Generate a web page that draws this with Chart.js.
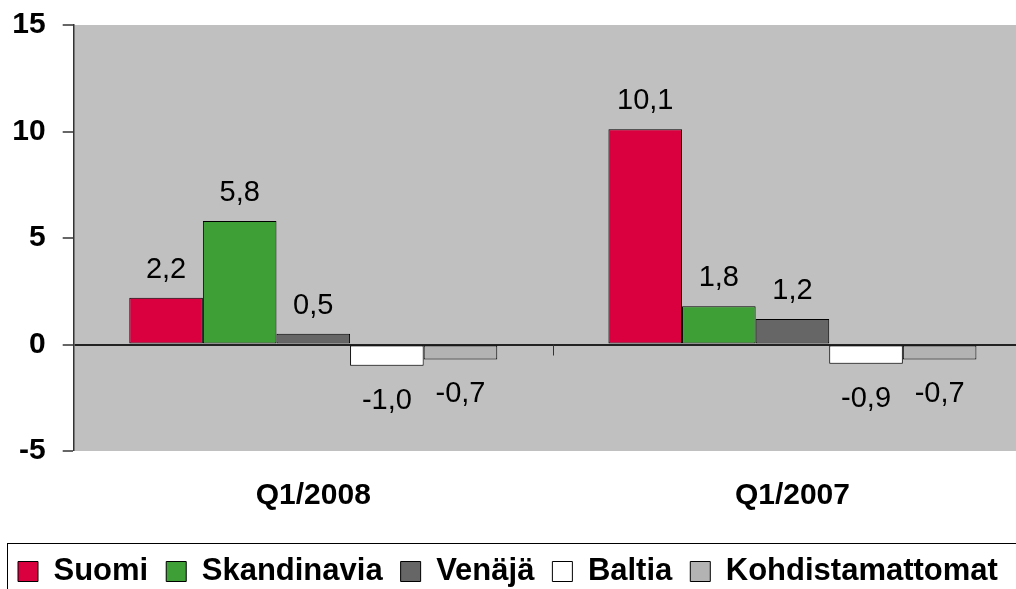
<!DOCTYPE html>
<html>
<head>
<meta charset="utf-8">
<script src="https://cdn.jsdelivr.net/npm/chart.js@4"></script>
<style>
  html, body { margin: 0; padding: 0; overflow: hidden; background: #fff; }
  #wrap { position: absolute; left: 0; top: 0; width: 1032px; height: 597px; }
</style>
</head>
<body>
<div id="wrap"><canvas id="chart1"></canvas></div>
<script>
const quarters = ['Q1/2008', 'Q1/2007'];
const suomi = [2.2, 10.1];
const skandinavia = [5.8, 1.8];
const venaja = [0.5, 1.2];
const baltia = [-1.0, -0.9];
const kohdistamattomat = [-0.7, -0.7];
const yTicks = [-5, 0, 5, 10, 15];

const FONT = "Arial, 'Liberation Sans', sans-serif";

// harmaa tausta piirtoalueelle
const plotBg = {
  id: 'plotBg',
  beforeDraw(chart) {
    const { ctx, chartArea: a } = chart;
    ctx.save();
    ctx.fillStyle = '#c0c0c0';
    ctx.fillRect(a.left, a.top, a.right - a.left, a.bottom - a.top);
    ctx.restore();
  }
};

// arvot pylväiden päälle/alle + luokkien välinen tikki
const barLabels = {
  id: 'barLabels',
  afterDatasetsDraw(chart) {
    const { ctx } = chart;
    ctx.save();
    // tikki nollaviivalla kategorioiden välissä
    const xs = chart.scales.x, ys = chart.scales.y;
    const mx = Math.round(xs.getPixelForValue(0.5)) + 0.5;
    const y0 = ys.getPixelForValue(0);
    ctx.strokeStyle = '#333';
    ctx.lineWidth = 1;
    ctx.beginPath();
    ctx.moveTo(mx, y0);
    ctx.lineTo(mx, y0 + 11);
    ctx.stroke();

    ctx.font = '29px ' + FONT;
    ctx.fillStyle = '#000';
    ctx.textAlign = 'center';
    ctx.textBaseline = 'alphabetic';
    chart.data.datasets.forEach((ds, i) => {
      chart.getDatasetMeta(i).data.forEach((bar, j) => {
        const v = ds.data[j];
        const txt = v.toFixed(1).replace('.', ',');
        const y = v >= 0 ? bar.y - 20 : bar.y + 43;
        ctx.fillText(txt, bar.x, y);
      });
    });
    ctx.restore();
  }
};

// selitteen kehys
const legendFrame = {
  id: 'legendFrame',
  afterDraw(chart) {
    const { ctx, legend } = chart;
    ctx.save();
    ctx.strokeStyle = '#000';
    ctx.lineWidth = 1;
    ctx.strokeRect(7.5, Math.round(legend.top + 5) + 0.5, 1100, 200);
    ctx.restore();
  }
};

const ctx = document.getElementById('chart1');
new Chart(ctx, {
  type: 'bar',
  data: {
    labels: quarters,
    datasets: [
      { label: 'Suomi', data: suomi, backgroundColor: '#da0040' },
      { label: 'Skandinavia', data: skandinavia, backgroundColor: '#3d9f35' },
      { label: 'Venäjä', data: venaja, backgroundColor: '#666666' },
      { label: 'Baltia', data: baltia, backgroundColor: '#ffffff' },
      { label: 'Kohdistamattomat', data: kohdistamattomat, backgroundColor: '#b3b3b3' }
    ].map(d => Object.assign(d, {
      borderColor: '#000',
      borderWidth: 1,
      borderSkipped: false,
      barPercentage: 1.0,
      categoryPercentage: 0.768
    }))
  },
  options: {
    responsive: true,
    maintainAspectRatio: false,
    animation: false,
    layout: { padding: { top: 25, left: 0, right: 0, bottom: 0 } },
    plugins: {
      tooltip: { enabled: false },
      legend: {
        position: 'bottom',
        align: 'start',
        labels: {
          boxWidth: 20,
          boxHeight: 20,
          padding: 18,
          color: '#000',
          font: { family: FONT, size: 31, weight: 'bold' }
        }
      }
    },
    scales: {
      x: {
        grid: { display: false, drawTicks: false },
        border: { display: false },
        ticks: {
          color: '#000',
          padding: 27,
          font: { family: FONT, size: 30, weight: 'bold' }
        },
        afterFit(scale) { scale.height = 87; }
      },
      y: {
        min: -5,
        max: 15,
        afterBuildTicks(scale) { scale.ticks = yTicks.map(v => ({ value: v })); },
        grid: {
          color: c => (c.tick && c.tick.value === 0 ? '#222' : 'rgba(0,0,0,0)'),
          lineWidth: c => (c.tick && c.tick.value === 0 ? 2 : 0),
          tickColor: '#333',
          tickLength: 11,
          tickWidth: 1.5
        },
        border: { display: true, color: '#333', width: 1.5 },
        ticks: {
          color: '#000',
          padding: 17,
          font: { family: FONT, size: 30, weight: 'bold' }
        },
        afterFit(scale) {
          scale.width = 73.7;
          scale.paddingTop = 0;
          scale.paddingBottom = 0;
        }
      }
    }
  },
  plugins: [plotBg, barLabels, legendFrame]
});
</script>
</body>
</html>
